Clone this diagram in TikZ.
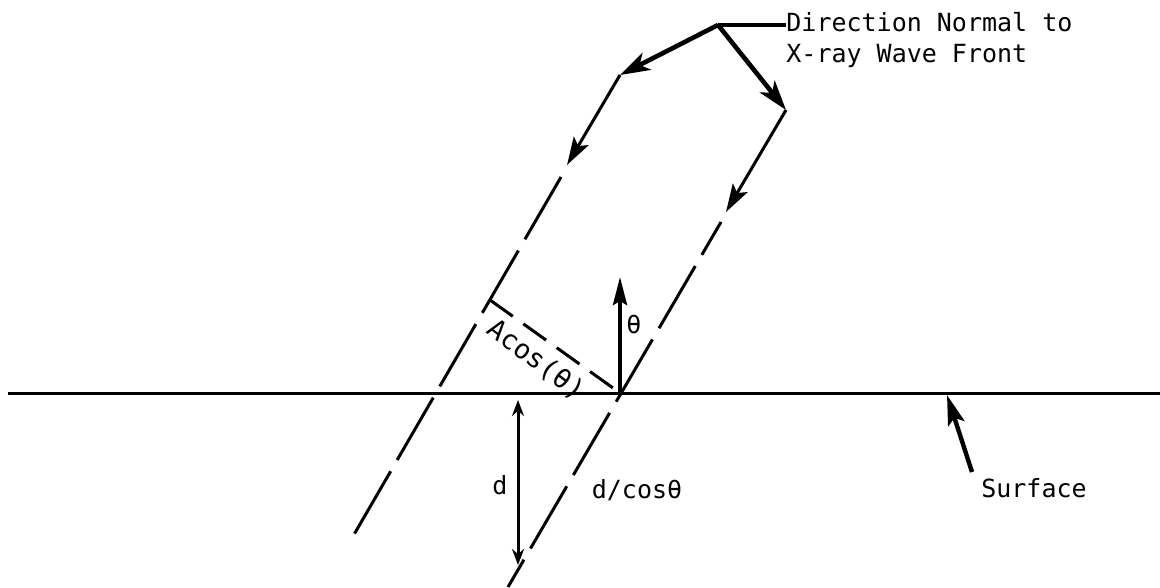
\documentclass[tikz,border=0pt]{standalone}
\usepackage{fontspec}
\newfontfamily\monofont{DejaVu Sans Mono}
\usetikzlibrary{arrows.meta}

\tikzset{
  ray/.style={line width=1.5pt},
  wave/.style={ray, dash pattern=on 36pt off 6.5pt},
  lead/.style={line width=2.3pt},
  bigtip/.style={-{Stealth[length=15pt,width=9.5pt,inset=4pt]}},
  raytip/.style={-{Stealth[length=14pt,width=8.5pt,inset=3pt]}},
  lbl/.style={inner sep=0pt, font=\monofont\fontsize{12.5}{15.5}\selectfont},
}

\begin{document}
\begin{tikzpicture}[x=0.5pt,y=-0.5pt]
  \useasboundingbox (0,0) rectangle (1160,588);

  \coordinate (J) at (718,25);
  \coordinate (L1) at (620,75);
  \coordinate (LA) at (567,165);
  \coordinate (LB) at (561,177);
  \coordinate (LE) at (352,538);
  \coordinate (R1) at (786,110);
  \coordinate (RA) at (726,212);
  \coordinate (RB) at (721,222);
  \coordinate (RE) at (508,587);
  \coordinate (P) at (620,393);
  \coordinate (T) at (620,277);
  \coordinate (F) at (490,300);
  \coordinate (S0) at (8,393);
  \coordinate (S1) at (1160,393);
  \coordinate (D0) at (518,400);
  \coordinate (D1) at (518,565);
  \coordinate (SA) at (947,395);
  \coordinate (ST) at (972,472);

  \node[lbl, anchor=west, align=left, font=\monofont\fontsize{12.5}{15.5}\selectfont] (front) at (786,40)
        {Direction Normal to\\X-ray Wave Front};
  \node[lbl] (surf) at (1034,488) {Surface};
  \node[lbl] (dlab) at (500,485) {d};
  \node[lbl] (dcos) at (637,490) {d/cosθ};
  \node[lbl] (theta) at (634,325) {θ};
  \node[lbl, rotate=-37, font=\monofont\fontsize{13.5}{15.5}\selectfont] (acos) at (536,360) {Acos(θ)};

  \draw[lead] (J) -- (J -| front.west);
  \draw[lead, bigtip] (J) -- (L1);
  \draw[lead, bigtip] (J) -- (R1);

  \draw[ray, raytip] (L1) -- (LA);
  \draw[wave] (LB) -- (LE);
  \draw[ray, raytip] (R1) -- (RA);
  \draw[wave, dash phase=17pt] (RB) -- (RE);

  \draw[ray] (S0) -- (S1);
  \draw[ray, dash pattern=on 14pt off 6.5pt] (F) -- (P);
  \draw[line width=2pt, -{Stealth[length=14pt,width=7pt,inset=2pt]}] (P) -- (T);
  \draw[ray, {Stealth[length=8pt,width=6pt]}-{Stealth[length=8pt,width=6pt]}] (D0) -- (D1);
  \draw[line width=2.2pt, -{Stealth[length=15pt,width=8.5pt,inset=3pt]}] (ST) -- (SA);
\end{tikzpicture}
\end{document}
